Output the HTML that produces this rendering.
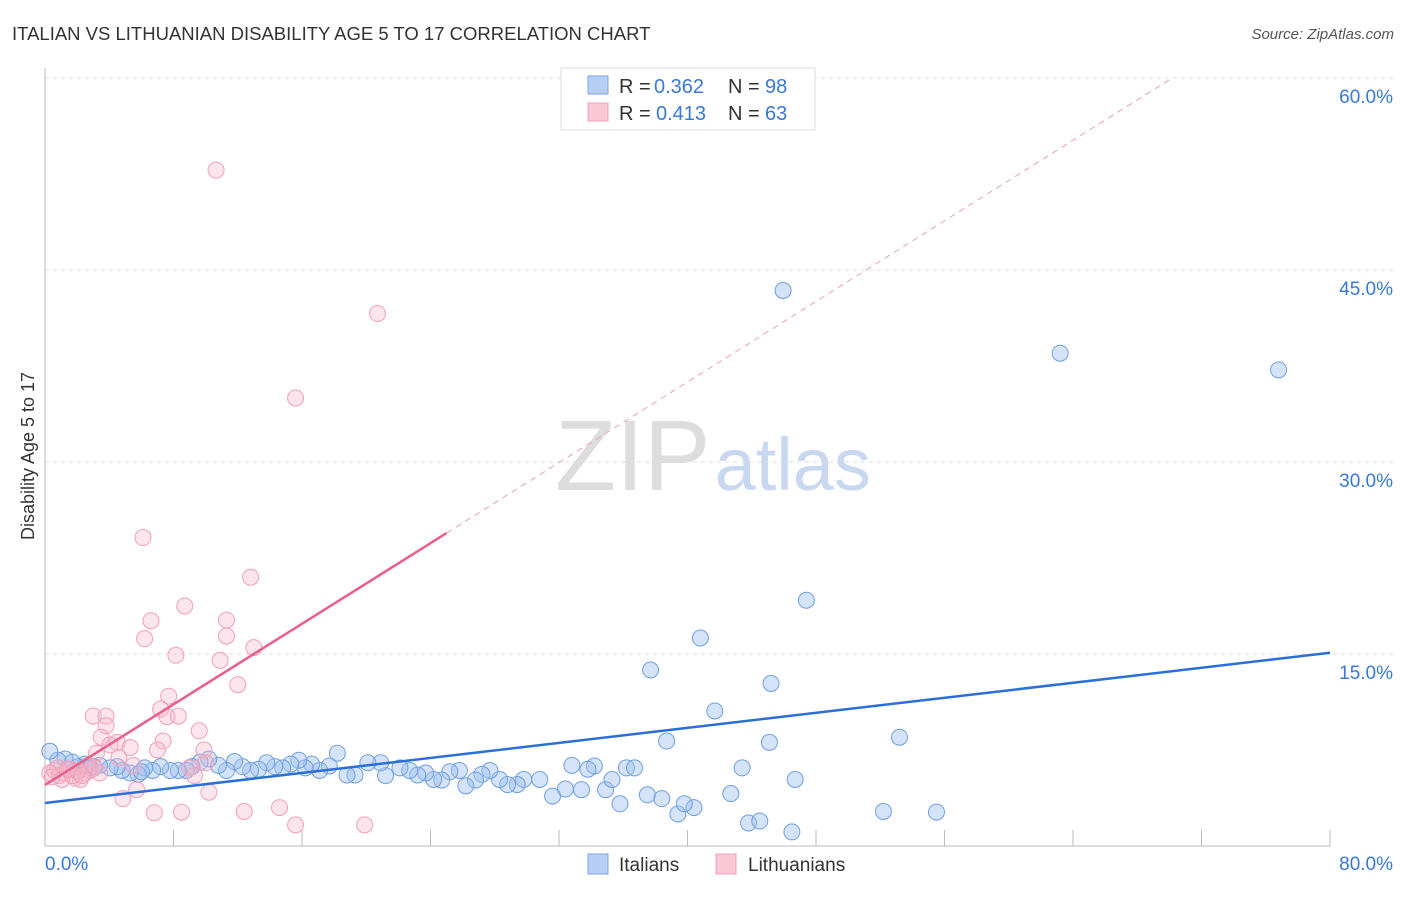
<!DOCTYPE html>
<html><head><meta charset="utf-8"><style>
body{margin:0;background:#fff;font-family:"Liberation Sans",sans-serif;}
svg text{font-family:"Liberation Sans",sans-serif;}
</style></head><body>
<svg id="chart" width="1406" height="892" xmlns="http://www.w3.org/2000/svg">
<text x="12" y="40" font-size="18.5" fill="#333">ITALIAN VS LITHUANIAN DISABILITY AGE 5 TO 17 CORRELATION CHART</text>
<text x="1394" y="39" font-size="15" fill="#555" text-anchor="end" font-style="italic">Source: ZipAtlas.com</text>
<text transform="translate(34,456) rotate(-90)" font-size="18" fill="#333" text-anchor="middle">Disability Age 5 to 17</text>
<text x="555" y="490" font-size="100" fill="#ddd" font-family="Liberation Serif"><tspan fill="#ddd">ZIP</tspan><tspan fill="#c8d8f0" font-family="Liberation Sans" font-size="74" dx="4">atlas</tspan></text>
<g id="grid"></g><g id="marks"></g>
<g>
<rect x="561" y="68" width="254" height="62" fill="#fff" stroke="#ddd"/>
<rect x="588" y="76" width="20" height="18" fill="#b7cff3" stroke="#7aa6e6"/>
<rect x="588" y="103" width="20" height="18" fill="#f9c8d6" stroke="#f0a0b8"/>
<text x="619" y="93" font-size="20" fill="#333">R =</text>
<text x="654" y="93" font-size="20" fill="#3a78d8">0.362</text>
<text x="728" y="93" font-size="20" fill="#333">N =</text>
<text x="765" y="93" font-size="20" fill="#3a78d8">98</text>
<text x="619" y="120" font-size="20" fill="#333">R =</text>
<text x="656" y="120" font-size="20" fill="#3a78d8">0.413</text>
<text x="728" y="120" font-size="20" fill="#333">N =</text>
<text x="765" y="120" font-size="20" fill="#3a78d8">63</text>
</g>
<g>
<rect x="588" y="854" width="20" height="20" fill="#b7cff3" stroke="#7aa6e6"/>
<text x="619" y="871" font-size="19" fill="#333">Italians</text>
<rect x="716" y="854" width="20" height="20" fill="#f9c8d6" stroke="#f0a0b8"/>
<text x="748" y="871" font-size="19" fill="#333">Lithuanians</text>
</g>
</svg>
<script>
const yTicks=[15,30,45,60];
const yTickLabels=["15.0%","30.0%","45.0%","60.0%"];
const xTickLabels=["0.0%","80.0%"];
const blueX=[45.95,63.2,76.8,47.4,40.8,37.7,45.2,41.7,53.2,38.7,45.1,43.4,46.7,42.7,52.2,55.5,46.5,43.8,44.5,39.4,40.4,39.8,38.4,37.5,35.8,34.9,35.3,36.2,36.7,34.2,33.8,32.8,33.4,32.4,31.6,30.8,29.8,29.4,28.8,28.3,27.7,27.2,26.8,26.2,25.8,25.2,24.7,24.2,23.7,23.2,22.7,22.1,21.2,20.9,20.1,19.3,18.8,18.2,17.7,17.1,16.6,16.2,15.8,15.3,14.8,14.3,13.8,13.3,12.8,12.3,11.8,11.3,10.8,10.2,9.65,9.15,8.8,8.3,7.8,7.2,6.7,6.2,5.8,5.3,4.8,4.5,4.05,3.4,3.05,2.5,2.05,1.7,1.25,0.8,0.3,1.5,2.8,6.0];
const blueY=[43.4,38.5,37.2,19.2,16.25,13.75,12.7,10.55,8.5,8.2,8.1,6.1,5.2,4.1,2.7,2.65,1.1,1.8,1.95,2.5,3.0,3.3,3.7,4.0,3.3,4.4,5.2,6.1,6.1,6.25,6.0,6.3,4.4,4.45,3.9,5.2,5.2,4.8,4.8,5.2,5.9,5.6,5.15,4.7,5.9,5.8,5.15,5.2,5.7,5.55,5.9,6.1,5.5,6.5,6.5,5.55,5.55,7.25,6.25,5.9,6.4,6.1,6.7,6.4,6.1,6.2,6.5,6.0,5.9,6.2,6.6,5.9,6.3,6.8,6.55,6.2,5.9,5.9,5.9,6.2,5.9,6.1,5.6,5.7,5.9,6.2,6.1,6.3,6.2,6.4,6.2,6.55,6.8,6.7,7.4,6.0,6.1,5.8];
const pinkX=[10.65,20.7,15.6,6.1,12.8,8.7,6.6,11.3,6.2,11.3,13.0,8.15,10.9,12.0,7.7,7.2,7.6,8.3,3.0,3.8,3.8,9.6,7.35,3.5,4.5,7.0,9.9,4.05,5.3,3.2,4.6,10.0,9.0,9.3,5.5,5.7,4.85,10.2,6.8,8.5,12.4,14.6,15.6,19.9,0.3,0.6,0.9,1.2,1.55,1.85,2.2,2.5,2.8,3.1,0.8,1.05,1.7,2.7,3.4,0.45,1.4,2.05,2.3];
const pinkY=[52.8,41.6,35.0,24.1,21.0,18.75,17.6,17.65,16.2,16.4,15.5,14.9,14.5,12.6,11.7,10.7,10.1,10.15,10.15,10.15,9.4,9.0,8.2,8.5,8.1,7.5,7.5,7.9,7.7,7.25,6.9,6.5,6.1,5.5,6.3,4.4,3.7,4.2,2.6,2.65,2.7,3.0,1.65,1.65,5.7,5.9,5.5,5.7,6.0,5.3,5.2,5.7,5.9,6.1,6.1,5.2,5.5,6.3,5.7,5.4,6.0,5.85,5.5];
const blueLine=[3.36,15.1];
const pinkLine=[4.77,0.787];
const NS="http://www.w3.org/2000/svg";
const X=v=>45+v*(1285/80), Y=v=>846-v*12.8;
function mk(tag,attrs,parent){const e=document.createElementNS(NS,tag);for(const k in attrs)e.setAttribute(k,attrs[k]);parent.appendChild(e);return e;}
const grid=document.getElementById('grid'),marks=document.getElementById('marks');
yTicks.forEach((t,i)=>{
 const l=mk('line',{x1:45,x2:1394,y1:Y(t),y2:Y(t),stroke:'#ddd','stroke-dasharray':'4,4'},grid);
 
 
 const tx=mk('text',{x:1393,y:Y(t)+25,'font-size':19,fill:'#3a78d8','text-anchor':'end'},grid);tx.textContent=yTickLabels[i];
 
 
});
const ax=mk('line',{x1:45,x2:1330,y1:846,y2:846,stroke:'#bbb'},grid);


const ay=mk('line',{x1:45,x2:45,y1:68,y2:846,stroke:'#bbb'},grid);


for(let i=0;i<=10;i++){const t=mk('line',{x1:X(i*8),x2:X(i*8),y1:830,y2:846,stroke:'#bbb'},grid);
 
 }
[[0,'start',45],[80,'end',1393]].forEach((d,i)=>{const t=mk('text',{x:d[2],y:870,'font-size':19,fill:'#3a78d8','text-anchor':d[1]},grid);t.textContent=xTickLabels[i];
 
 });
blueX.forEach((x,i)=>{const c=mk('circle',{cx:X(x),cy:Y(blueY[i]),r:8,fill:'rgba(160,192,240,0.45)',stroke:'#6f9fe0','stroke-width':1},marks);
 
 });
pinkX.forEach((x,i)=>{const c=mk('circle',{cx:X(x),cy:Y(pinkY[i]),r:8,fill:'rgba(246,180,200,0.35)',stroke:'#f0a0b8','stroke-width':1},marks);
 
 });
const bl=mk('line',{x1:X(0),y1:Y(blueLine[0]),x2:X(80),y2:Y(blueLine[1]),stroke:'#2a6fd8','stroke-width':2.5},marks);


const ps=mk('line',{x1:X(0),y1:Y(pinkLine[0]),x2:X(25),y2:Y(pinkLine[0]+pinkLine[1]*25),stroke:'#e8608a','stroke-width':2.5},marks);


const xe=(60-pinkLine[0])/pinkLine[1];
const pd=mk('line',{x1:X(25),y1:Y(pinkLine[0]+pinkLine[1]*25),x2:X(xe),y2:Y(60),stroke:'#e8a0b8','stroke-width':1,'stroke-dasharray':'6,5'},marks);


</script>
</body></html>
